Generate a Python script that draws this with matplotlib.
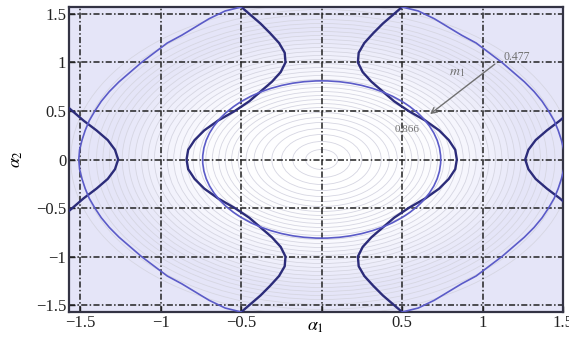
import numpy as np
import matplotlib
matplotlib.use("Agg")
from matplotlib import pyplot as plt
from matplotlib.patches import Ellipse
from matplotlib.colors import LinearSegmentedColormap, Normalize

# ---- data (upper-right quadrant, mirrored later) ----
# dark curve, inner "diamond" branch
dark_in_x = [0.84, 0.83, 0.79, 0.73, 0.645, 0.54, 0.45, 0.38, 0.31, 0.255, 0.225, 0.23, 0.265, 0.32, 0.38, 0.45, 0.50]
dark_in_y = [0.00, 0.10, 0.20, 0.30, 0.40, 0.50, 0.60, 0.70, 0.80, 0.90, 1.00, 1.10, 1.20, 1.30, 1.40, 1.50, 1.571]
# dark curve, outer branch
dark_out_x = [1.265, 1.285, 1.33, 1.40, 1.48, 1.55, 1.571]
dark_out_y = [0.00, 0.10, 0.20, 0.30, 0.40, 0.50, 0.53]
# light curve, big closed loop (level 0.477)
outer_x = [1.51, 1.505, 1.49, 1.47, 1.445, 1.41, 1.37, 1.32, 1.26, 1.19, 1.12, 1.04, 0.96, 0.87, 0.78, 0.70, 0.60, 0.50]
outer_y = [0.00, 0.10, 0.20, 0.30, 0.40, 0.50, 0.60, 0.70, 0.80, 0.90, 1.00, 1.10, 1.20, 1.28, 1.37, 1.45, 1.53, 1.571]
# light curve, inner ellipse (level 0.866), semi-axes
inner_a, inner_b = 0.74, 0.81

# background contour rings (radius along alpha_1)
rings = [0.10, 0.18, 0.25, 0.31, 0.37, 0.42, 0.47, 0.52, 0.56, 0.60, 0.64,
         0.68, 0.72, 0.76, 0.80, 0.84, 0.88, 0.92, 0.96, 1.00, 1.04, 1.08,
         1.12, 1.16, 1.20, 1.24, 1.28, 1.32, 1.36, 1.40, 1.45, 1.50, 1.56]

ticks = [-1.5, -1, -0.5, 0, 0.5, 1, 1.5]
xlabels = ["\u22121.5", "\u22121", "\u22120.5", "", "0.5", "1", "1.5"]
ylabels = ["\u22121.5", "\u22121", "\u22120.5", "0", "0.5", "1", "1.5"]

# arrow annotation
arrow_start = (1.09, 1.0)
arrow_end = (0.66, 0.45)


def mirror(x, y):
  """ full right-half curve from a quadrant """
  x = np.asarray(x)
  y = np.asarray(y)
  return np.concatenate([x[::-1], x[1:]]), np.concatenate([y[::-1], -y[1:]])


plt.rcParams['font.family'] = ['Liberation Serif', 'DejaVu Serif']
plt.rcParams['mathtext.fontset'] = 'stix'

fig = plt.figure(figsize=(5.69, 3.5), dpi=100)
ax = fig.add_axes([69/569, 38/350, 494/569, 305/350])
ax.set_facecolor('#e5e5f8')

cmap = LinearSegmentedColormap.from_list('bg', ['#ffffff', '#fbfbfe', '#e5e5f8'])
norm = Normalize(0.3, 1.3)
for r in sorted(rings, reverse=True):
  ax.add_patch(Ellipse((0, 0), 2*r, 2*r*1.03, facecolor=cmap(norm(r)),
                       edgecolor='#d6d6e2', lw=0.6, zorder=0.2))

dark = '#2c2c7a'
light = '#5b5bc8'
for sx in (1, -1):
  xx, yy = mirror(dark_in_x, dark_in_y)
  ax.plot(sx*xx, yy, color=dark, lw=1.7, zorder=3, solid_joinstyle='round')
  xx, yy = mirror(dark_out_x, dark_out_y)
  ax.plot(sx*xx, yy, color=dark, lw=1.7, zorder=3, solid_joinstyle='round')
  xx, yy = mirror(outer_x, outer_y)
  ax.plot(sx*xx, yy, color=light, lw=1.2, zorder=3, solid_joinstyle='round')
ax.add_patch(Ellipse((0, 0), 2*inner_a, 2*inner_b, facecolor='none',
                     edgecolor=light, lw=1.2, zorder=3))

# annotations
gray = '#707070'
ax.annotate('', xy=arrow_end, xytext=arrow_start,
            arrowprops=dict(arrowstyle='->', color=gray, lw=1.0), zorder=4)
ax.text(1.13, 1.06, '0.477', color=gray, fontsize=8.5, va='center', zorder=4)
ax.text(0.84, 0.90, r'$m_1$', color=gray, fontsize=10, ha='center', va='center', zorder=4)
ax.text(0.53, 0.31, '0.866', color=gray, fontsize=8, ha='center', va='center', zorder=4)

ax.set_xlim(-np.pi/2, 1.5)
ax.set_ylim(-np.pi/2, np.pi/2)
ax.set_xticks(ticks)
ax.set_xticklabels(xlabels)
ax.set_yticks(ticks)
ax.set_yticklabels(ylabels)
ax.tick_params(direction='in', length=4, width=1, colors='#222222', labelsize=12, pad=2)
ax.set_axisbelow('line')
ax.grid(True, color='#222222', lw=1.1, dashes=(4, 1.5, 1, 1.5))
for s in ax.spines.values():
  s.set_color('#333344')
  s.set_linewidth(1.6)

ax.set_xlabel(r'$\alpha_1$', fontsize=13, labelpad=-9)
ax.set_ylabel(r'$\alpha_2$', fontsize=13, labelpad=8)

fig.savefig('out.png', dpi=100)
